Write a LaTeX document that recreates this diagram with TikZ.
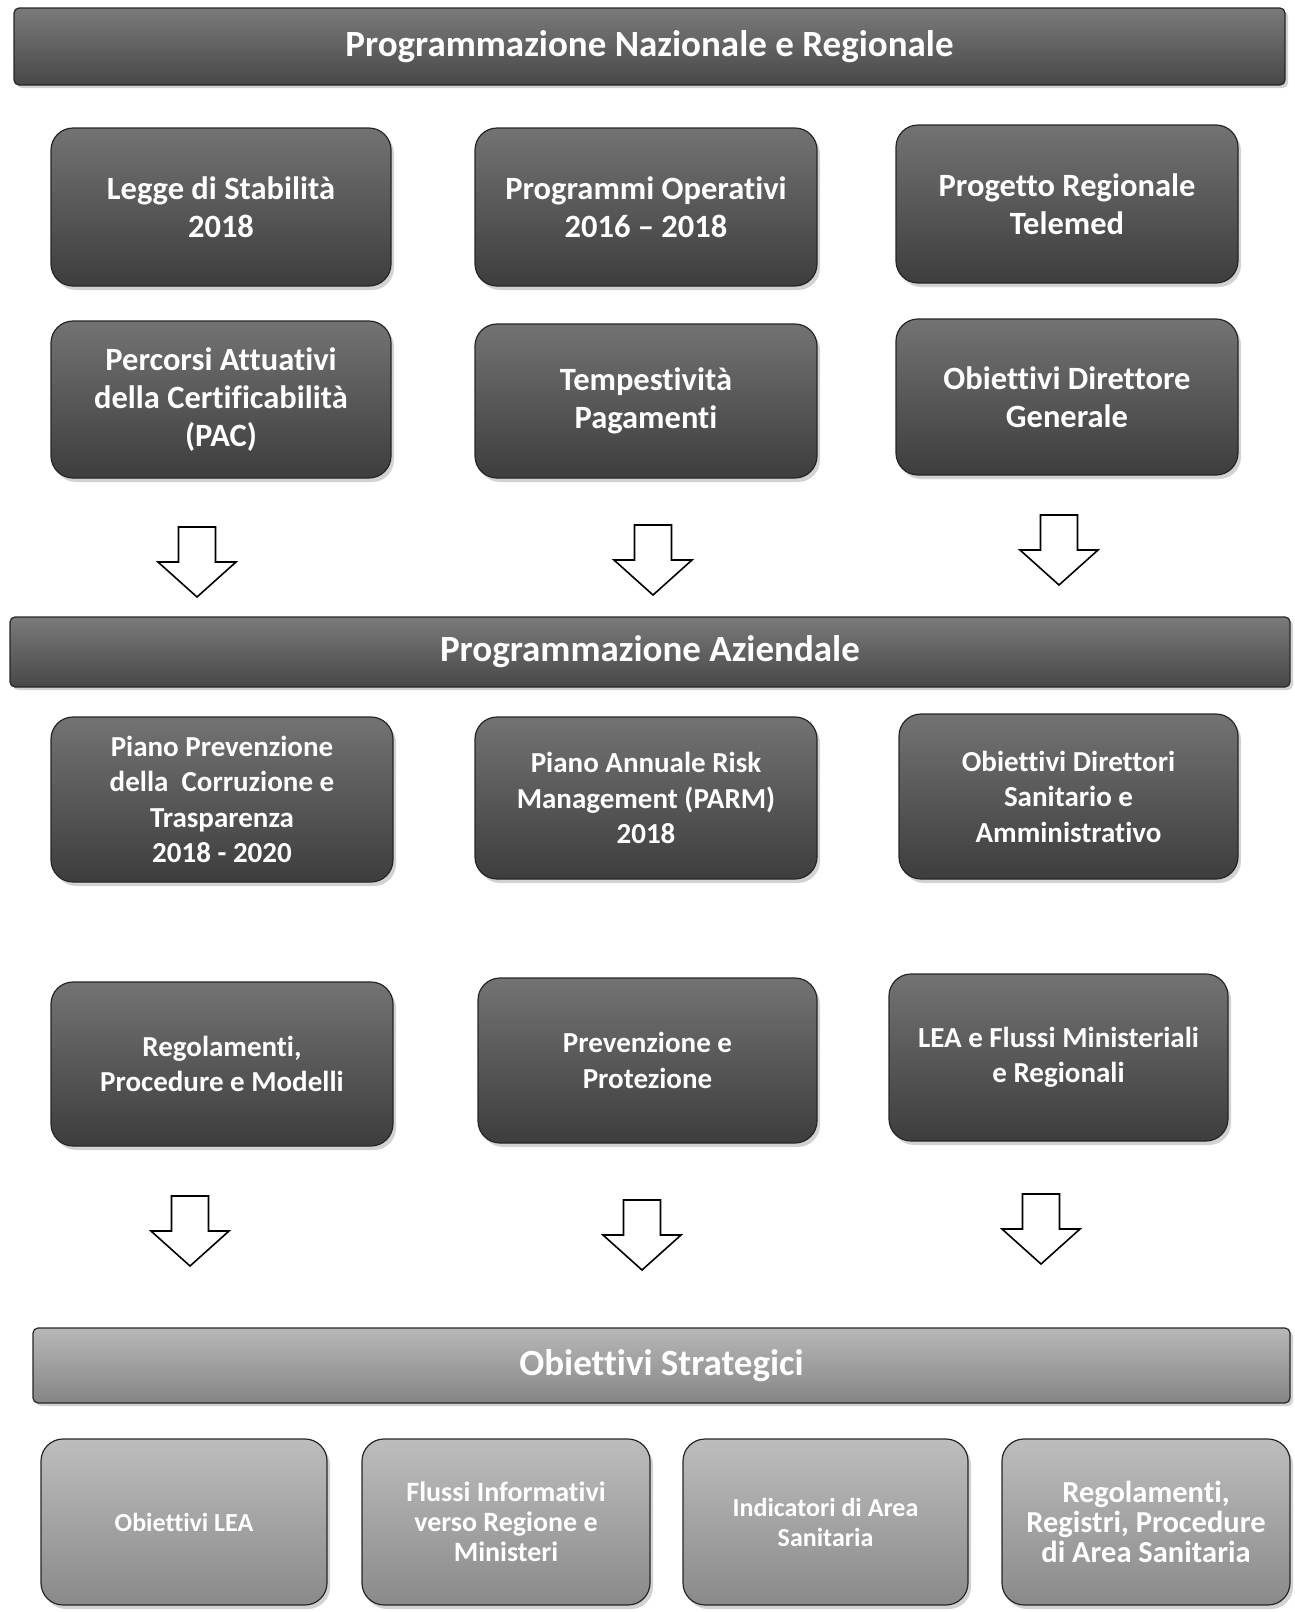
\documentclass[tikz,border=0pt]{standalone}
\usepackage{fontspec}
\setmainfont{Carlito}[Ligatures=NoCommon]
\usetikzlibrary{shadows}
\tikzset{
  banner/.style={rounded corners=5pt, draw=black!85, line width=1.2pt,
    top color=black!52, bottom color=black!72, text=white, inner sep=0pt,
    font=\bfseries\fontsize{37}{43}\selectfont,
    drop shadow={shadow xshift=3pt, shadow yshift=-3pt, fill=black!35}},
  lightbanner/.style={banner, top color=black!28, bottom color=black!48},
  panel/.style={rounded corners=22pt, draw=black!85, line width=1.2pt,
    top color=black!55, bottom color=black!76, text=white, inner sep=0pt,
    align=center, font=\bfseries\fontsize{32.5}{38}\selectfont,
    drop shadow={shadow xshift=3pt, shadow yshift=-4pt, fill=black!35}},
  panelsm/.style={panel, font=\bfseries\fontsize{29}{35.5}\selectfont},
  lightpanel/.style={panel, top color=black!26, bottom color=black!46,
    font=\bfseries\fontsize{26}{30}\selectfont},
  blockarrow/.style={draw=black, line width=1.6pt, fill=white, line join=miter}
}
\newcommand\hollowdown[3]{% name, x, ytop
  \coordinate (#1) at (#2,#3);
  \draw[blockarrow] ([xshift=-18.5pt]#1) -- ([xshift=18.5pt]#1)
    -- ([xshift=18.5pt,yshift=-35pt]#1) -- ([xshift=39pt,yshift=-35pt]#1)
    -- ([yshift=-70pt]#1) -- ([xshift=-39pt,yshift=-35pt]#1)
    -- ([xshift=-18.5pt,yshift=-35pt]#1) -- cycle;
}
\begin{document}
\begin{tikzpicture}[x=1pt,y=-1pt]
\useasboundingbox (0,0) rectangle (1295,1612);

% top banner
\node[banner, minimum width=1271pt, minimum height=77pt] (b1) at (649.5,46.5)
  {Programmazione Nazionale e Regionale};

% row 1
\node[panel, minimum width=340pt, minimum height=158pt] (a) at (221,207)
  {Legge di Stabilità\\2018};
\node[panel, minimum width=342pt, minimum height=158pt] (b) at (646,207)
  {Programmi Operativi\\2016 – 2018};
\node[panel, minimum width=342pt, minimum height=158pt] (c) at (1067,204)
  {Progetto Regionale\\Telemed};

% row 2
\node[panel, minimum width=340pt, minimum height=157pt] (d) at (221,399.5)
  {Percorsi Attuativi\\della Certificabilità\\(PAC)};
\node[panel, minimum width=342pt, minimum height=154pt] (e) at (646,401)
  {Tempestività\\Pagamenti};
\node[panel, minimum width=342pt, minimum height=156pt] (f) at (1067,397)
  {Obiettivi Direttore\\Generale};

% arrows 1
\hollowdown{ar1}{197}{527}
\hollowdown{ar2}{653}{525}
\hollowdown{ar3}{1059}{515}

% banner 2
\node[banner, minimum width=1280pt, minimum height=70pt] (b2) at (650,652)
  {Programmazione Aziendale};

% row 3
\node[panelsm, minimum width=342pt, minimum height=165pt] (g) at (222,799.5)
  {Piano Prevenzione\\della\ \ Corruzione e\\Trasparenza\\2018 - 2020};
\node[panelsm, minimum width=342pt, minimum height=162pt] (h) at (646,798)
  {Piano Annuale Risk\\Management (PARM)\\2018};
\node[panelsm, minimum width=339pt, minimum height=165pt] (i) at (1068.5,796.5)
  {Obiettivi Direttori\\Sanitario e\\Amministrativo};

% row 4
\node[panelsm, minimum width=342pt, minimum height=164pt] (j) at (222,1064)
  {Regolamenti,\\Procedure e Modelli};
\node[panelsm, minimum width=339pt, minimum height=165pt] (k) at (647.5,1060.5)
  {Prevenzione e\\Protezione};
\node[panelsm, minimum width=339pt, minimum height=167pt] (l) at (1058.5,1057.5)
  {LEA e Flussi Ministeriali\\e Regionali};

% arrows 2
\hollowdown{ar4}{190}{1196}
\hollowdown{ar5}{642}{1200}
\hollowdown{ar6}{1041}{1194}

% banner 3
\node[lightbanner, minimum width=1257pt, minimum height=75pt] (b3) at (661.5,1365.5)
  {Obiettivi Strategici};

% row 5
\node[lightpanel, minimum width=286pt, minimum height=166pt] (m) at (184,1522)
  {Obiettivi LEA};
\node[lightpanel, minimum width=288pt, minimum height=166pt,
  font=\bfseries\fontsize{28}{30}\selectfont] (n) at (506,1522)
  {Flussi Informativi\\verso Regione e\\Ministeri};
\node[lightpanel, minimum width=285pt, minimum height=166pt] (o) at (825.5,1522)
  {Indicatori di Area\\Sanitaria};
\node[lightpanel, minimum width=288pt, minimum height=166pt,
  font=\bfseries\fontsize{30.5}{30}\selectfont] (p) at (1146,1522)
  {Regolamenti,\\Registri, Procedure\\di Area Sanitaria};
\end{tikzpicture}
\end{document}
